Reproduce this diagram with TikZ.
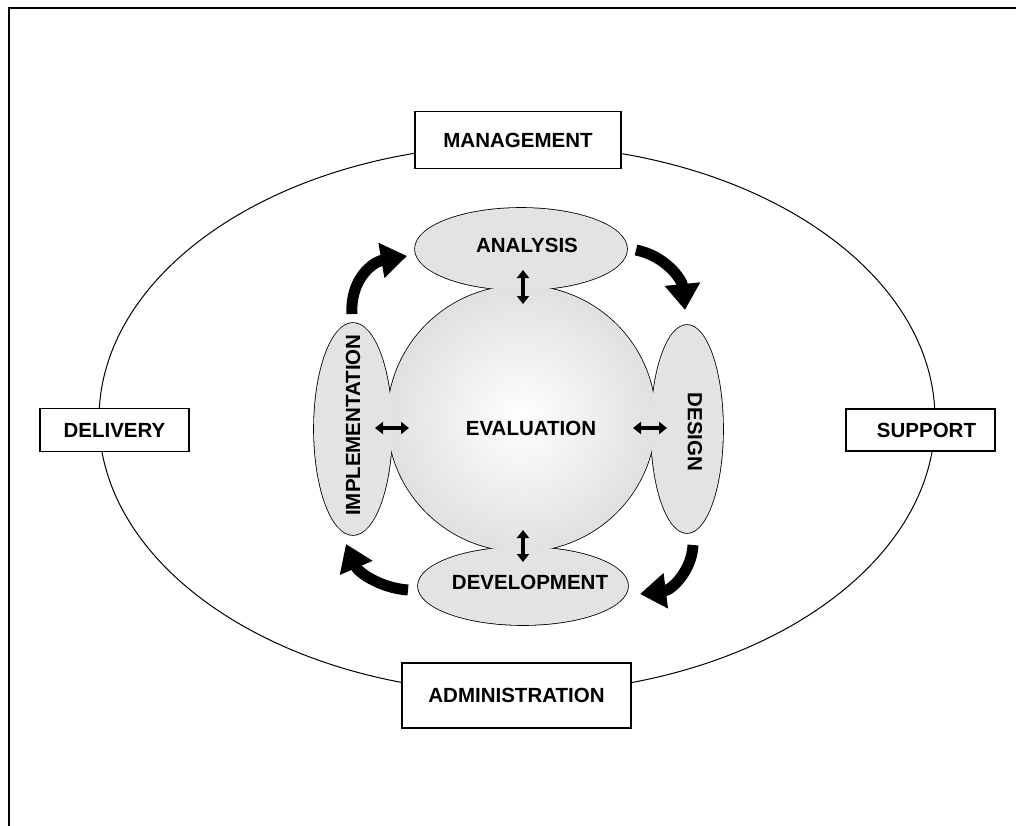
\documentclass[tikz,border=0pt]{standalone}
\usepackage{fontspec}
\setmainfont{Liberation Sans}
\usetikzlibrary{arrows.meta}
\begin{document}
\begin{tikzpicture}[x=1pt,y=-1pt,
    box/.style={draw,line width=1.1pt,fill=white,inner sep=0pt,font=\bfseries\fontsize{20.5}{24}\selectfont},
    lbl/.style={inner sep=0pt,font=\bfseries\fontsize{20.5}{24}\selectfont},
    fat/.style={line width=11pt,-{Triangle[length=26pt,width=34pt]}},
    dbl/.style={line width=3.4pt,{Triangle[length=8pt,width=12pt]}-{Triangle[length=8pt,width=12pt]}}]
    \useasboundingbox (0,0) rectangle (1016,826);
    \draw[line width=2.8pt] (9,826) -- (9,8) -- (1016,8);
    \draw[line width=1pt] (517,419) ellipse [x radius=418, y radius=274];
    \foreach \x/\y/\a/\b in {521.5/418.5/134/133,521/249/106/41,353/429/39/106,687/429/36/104,523/586/105/39}
        {\draw[line width=1.6pt] (\x,\y) ellipse [x radius=\a, y radius=\b];
        }
    \shade[inner color=white,outer color=black!12] (521.5,418.5) ellipse [x radius=134, y radius=133];
    \foreach \x/\y/\a/\b in {521/249/106/41,353/429/39/106,687/429/36/104,523/586/105/39}
        {\fill[black!11] (\x,\y) ellipse [x radius=\a, y radius=\b];
        }
    \node[box,minimum width=206pt,minimum height=57pt] (mgmt) at (518,140) {MANAGEMENT};
    \node[box,minimum width=149pt,minimum height=43pt] (deliv) at (114.5,430) {DELIVERY};
    \node[box,minimum width=149pt,minimum height=42pt] (supp) at (920.5,430) {\hspace{12pt}SUPPORT};
    \node[box,minimum width=229pt,minimum height=65pt] (admin) at (516.5,695.5) {ADMINISTRATION};
    \node[lbl] (ana) at (527,245) {ANALYSIS};
    \node[lbl] (eval) at (531,428) {EVALUATION};
    \node[lbl,rotate=-90] (des) at (695,432) {DESIGN};
    \node[lbl,rotate=90] (impl) at (353,425) {IMPLEMENTATION};
    \node[lbl] (dev) at (530,582) {DEVELOPMENT};
    \coordinate (a1) at (523,270); \coordinate (a2) at (523,304);
    \coordinate (b1) at (375,428); \coordinate (b2) at (409,428);
    \coordinate (c1) at (633,428); \coordinate (c2) at (667,428);
    \coordinate (d1) at (523,530); \coordinate (d2) at (523,562);
    \draw[dbl] (a1) -- (a2);
    \draw[dbl] (b1) -- (b2);
    \draw[dbl] (c1) -- (c2);
    \draw[dbl] (d1) -- (d2);
    \coordinate (f1) at (352,314); \coordinate (f2) at (407,256);
    \coordinate (g1) at (636,250); \coordinate (g2) at (685,310);
    \coordinate (h1) at (693,545); \coordinate (h2) at (640,594);
    \coordinate (k1) at (408,590); \coordinate (k2) at (346,544);
    \draw[fat] (f1) .. controls (350,280) and (372,262) .. (f2);
    \draw[fat] (g1) .. controls (666,256) and (682,280) .. (g2);
    \draw[fat] (h1) .. controls (692,570) and (672,590) .. (h2);
    \draw[fat] (k1) .. controls (380,588) and (358,572) .. (k2);
\end{tikzpicture}
\end{document}
